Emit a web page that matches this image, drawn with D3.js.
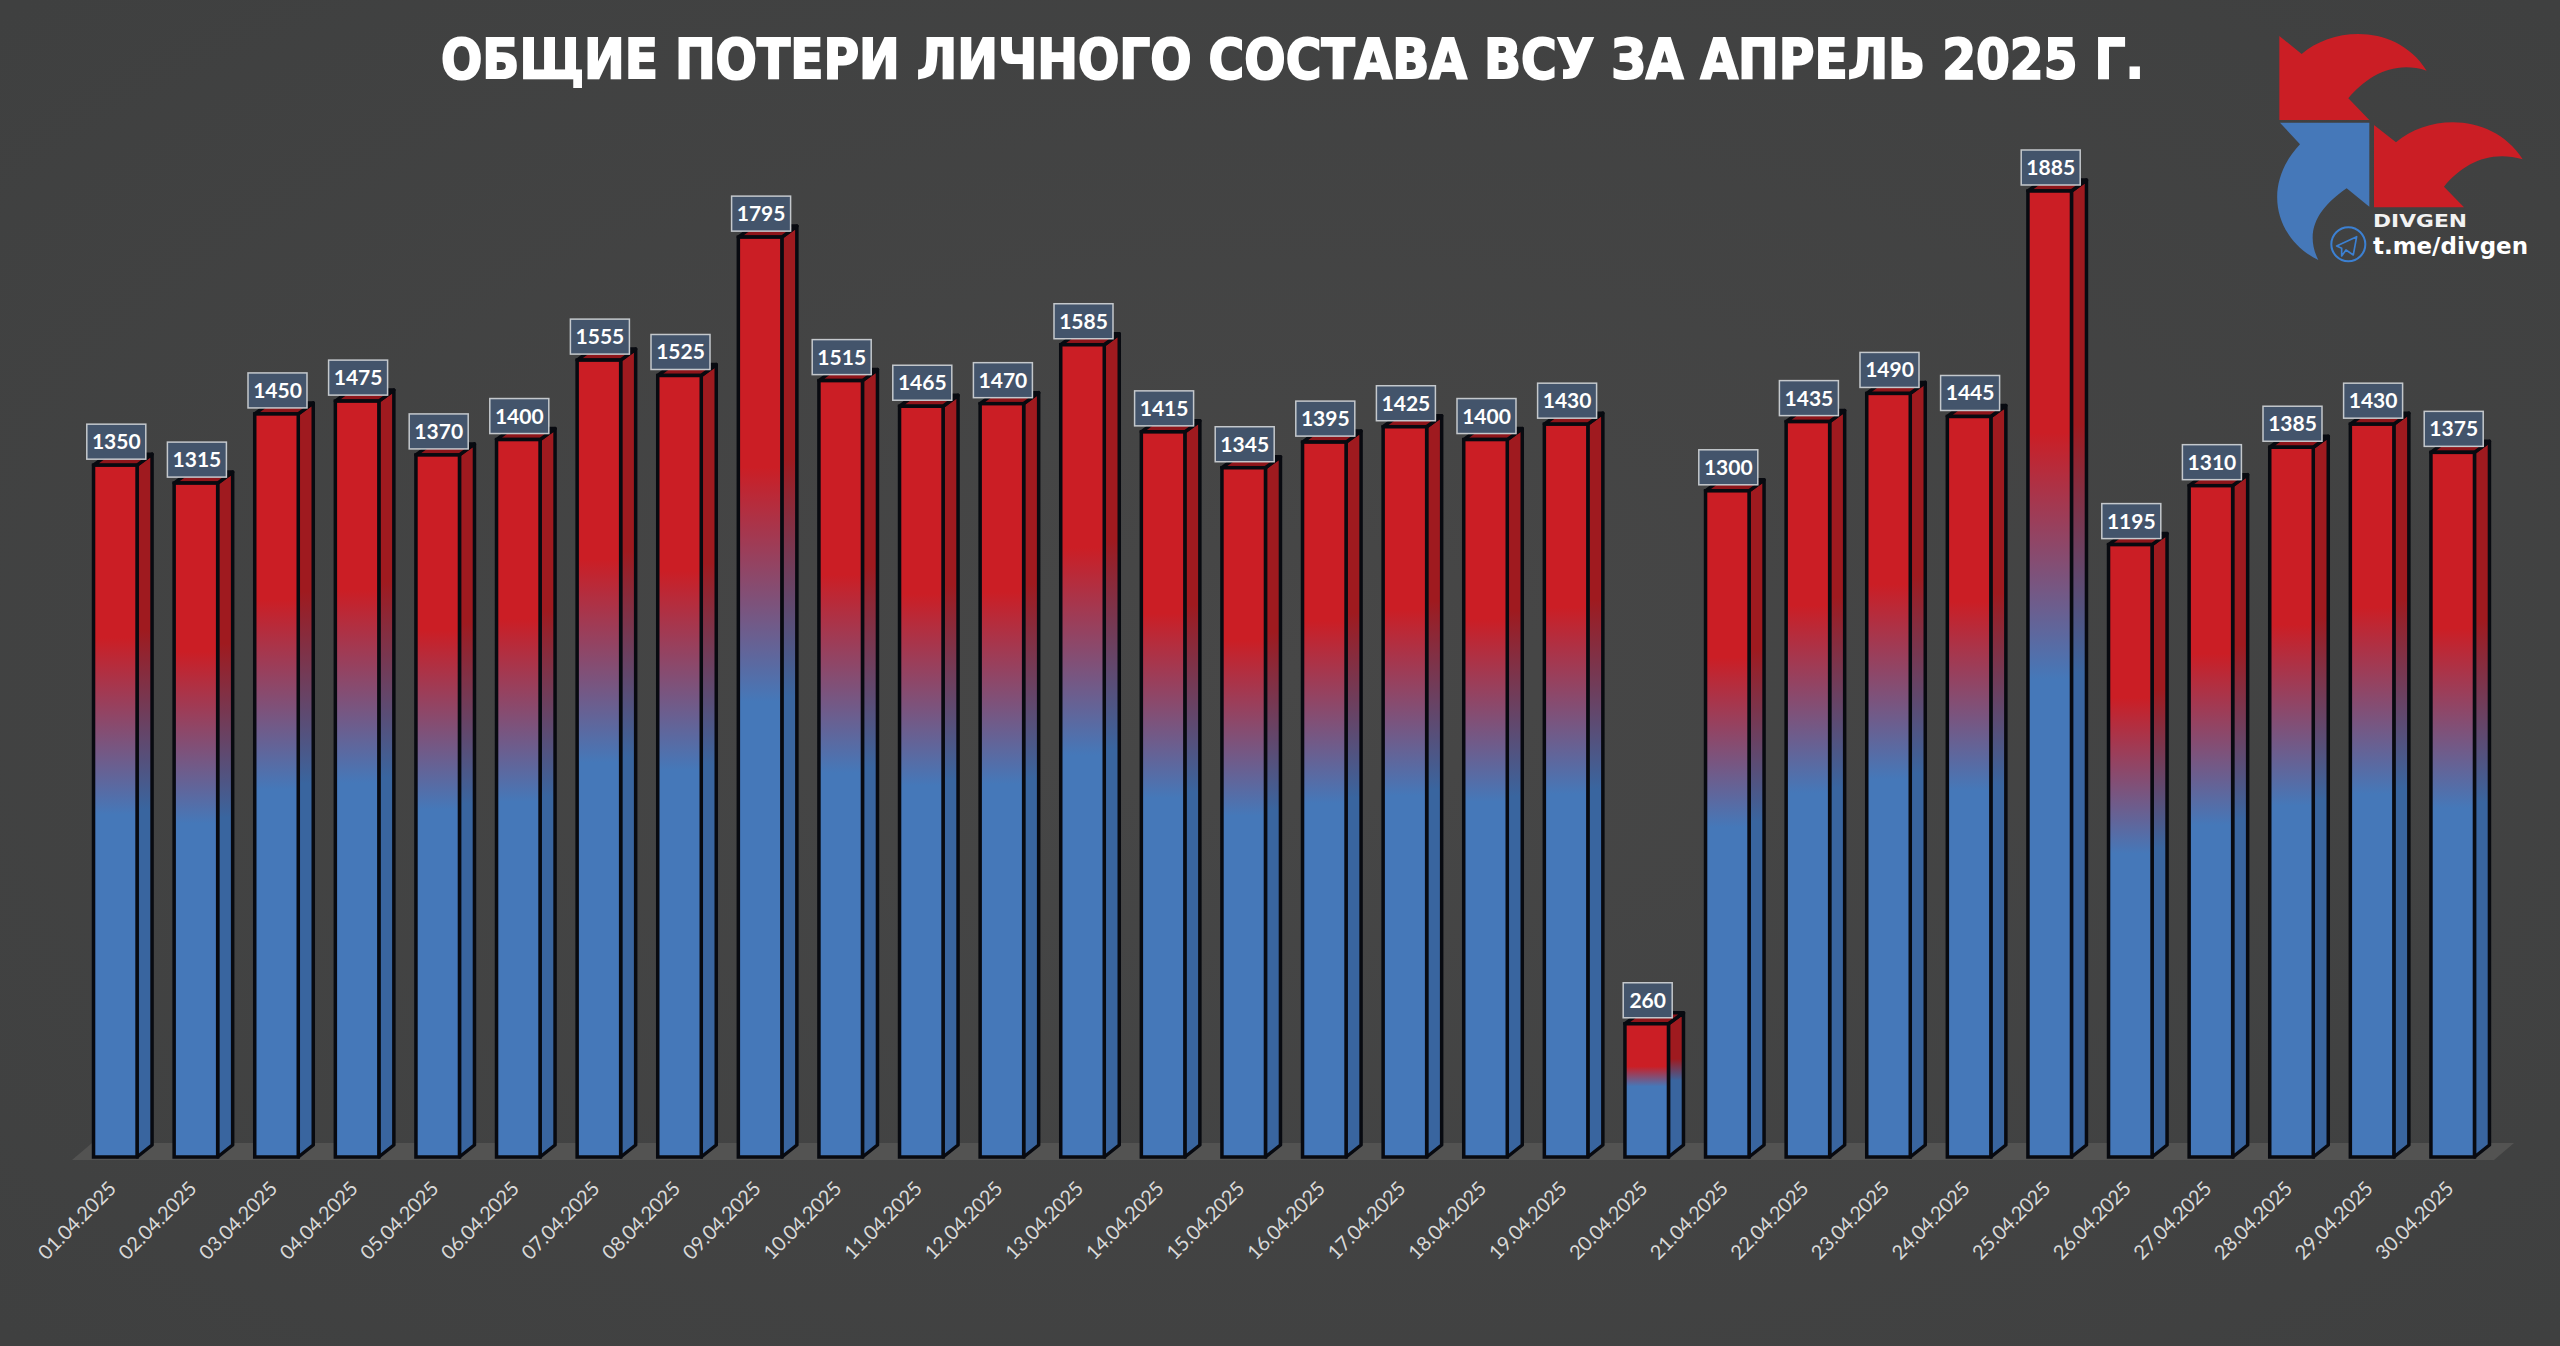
<!DOCTYPE html>
<html lang="ru">
<head>
<meta charset="UTF-8">
<title>Общие потери</title>
<style>
  html, body { margin: 0; padding: 0; background: #434343; overflow: hidden; }
  svg { display: block; }
</style>
</head>
<body>
<script src="https://d3js.org/d3.v7.min.js"></script>
<script>
const titleText = 'ОБЩИЕ ПОТЕРИ ЛИЧНОГО СОСТАВА ВСУ ЗА АПРЕЛЬ 2025 Г.';
const dates = ['01.04.2025','02.04.2025','03.04.2025','04.04.2025','05.04.2025','06.04.2025','07.04.2025','08.04.2025','09.04.2025','10.04.2025',
               '11.04.2025','12.04.2025','13.04.2025','14.04.2025','15.04.2025','16.04.2025','17.04.2025','18.04.2025','19.04.2025','20.04.2025',
               '21.04.2025','22.04.2025','23.04.2025','24.04.2025','25.04.2025','26.04.2025','27.04.2025','28.04.2025','29.04.2025','30.04.2025'];
const losses = [1350,1315,1450,1475,1370,1400,1555,1525,1795,1515,
                1465,1470,1585,1415,1345,1395,1425,1400,1430,260,
                1300,1435,1490,1445,1885,1195,1310,1385,1430,1375];

const width = 2560, height = 1346;
const baseY = 1157;
const depthX = 15, depthY = 11;

const svg = d3.select('body').append('svg')
  .attr('width', width)
  .attr('height', height)
  .attr('viewBox', [0, 0, width, height]);

const defs = svg.append('defs');

const bgGrad = defs.append('radialGradient').attr('id', 'bg').attr('cx', '50%').attr('cy', '50%').attr('r', '70%');
bgGrad.append('stop').attr('offset', '0%').attr('stop-color', '#474747');
bgGrad.append('stop').attr('offset', '100%').attr('stop-color', '#3f4040');

// red on top, blue below; the 260 bar has a much tighter blend
function barGradient(id, red, blue, redStop, blueStop) {
  const g = defs.append('linearGradient').attr('id', id)
    .attr('x1', 0).attr('y1', 0).attr('x2', 0).attr('y2', 1);
  g.append('stop').attr('offset', 1 - redStop).attr('stop-color', red);
  g.append('stop').attr('offset', 1 - blueStop).attr('stop-color', blue);
}
barGradient('front', '#cb1e25', '#4578b9', 0.75, 0.495);
barGradient('side', '#9f1a1f', '#39659f', 0.75, 0.495);
barGradient('frontShort', '#cb1e25', '#4578b9', 0.68, 0.53);
barGradient('sideShort', '#9f1a1f', '#39659f', 0.68, 0.53);

svg.append('rect').attr('width', width).attr('height', height).attr('fill', 'url(#bg)');

const x = d3.scaleBand()
  .domain(dates)
  .range([75, 75 + 80.6 * 30])
  .paddingInner(0.46)
  .paddingOuter(0.23);

const y = d3.scaleLinear()
  .domain([0, 1885])
  .range([baseY, 191]);

// floor
const floorLeft = x.range()[0], floorRight = x.range()[1];
svg.append('path')
  .attr('d', `M${floorLeft - 3},1160 L${floorRight + 1},1160 L${floorRight + 21},1143 L${floorLeft + 17},1143 Z`)
  .attr('fill', '#535352');

// x axis
const xAxis = d3.axisBottom(x).tickSize(0);
svg.append('g')
  .attr('transform', `translate(0,${baseY})`)
  .call(xAxis)
  .call(g => g.select('.domain').remove())
  .selectAll('text')
  .attr('x', 0).attr('y', 0).attr('dy', 0)
  .attr('text-anchor', 'end')
  .attr('transform', 'translate(2,33) rotate(-45)')
  .attr('font-family', 'Lato, sans-serif')
  .attr('font-size', 20)
  .attr('letter-spacing', -0.2)
  .attr('fill', '#d9d9d9');

// bars
const rows = dates.map((d, i) => ({ date: d, value: losses[i] }));
const bar = svg.selectAll('g.bar').data(rows).join('g').attr('class', 'bar');
const bw = x.bandwidth();
const edge = '#080a10';

bar.append('path')
  .attr('d', d => {
    const r = x(d.date) + bw;
    return `M${r},${y(d.value)} L${r + depthX},${y(d.value) - depthY} L${r + depthX},${baseY - depthY - 1} L${r},${baseY} Z`;
  })
  .attr('fill', d => d.value < 500 ? 'url(#sideShort)' : 'url(#side)')
  .attr('stroke', edge).attr('stroke-width', 3.5).attr('stroke-linejoin', 'round');

bar.append('path')
  .attr('d', d => {
    const l = x(d.date), r = l + bw, t = y(d.value);
    return `M${l},${t} L${r},${t} L${r + depthX},${t - depthY} L${l + depthX},${t - depthY} Z`;
  })
  .attr('fill', '#8e151a')
  .attr('stroke', edge).attr('stroke-width', 3.5).attr('stroke-linejoin', 'round');

bar.append('rect')
  .attr('x', d => x(d.date))
  .attr('y', d => y(d.value))
  .attr('width', bw)
  .attr('height', d => baseY - y(d.value))
  .attr('fill', d => d.value < 500 ? 'url(#frontShort)' : 'url(#front)')
  .attr('stroke', edge).attr('stroke-width', 3.5);

// value labels
const label = svg.selectAll('g.label').data(rows).join('g').attr('class', 'label')
  .attr('transform', d => `translate(${x(d.date) + bw / 2 + 1},${y(d.value) - 6})`);

label.append('rect')
  .attr('x', d => d.value < 1000 ? -24.5 : -29.5)
  .attr('y', -35)
  .attr('width', d => d.value < 1000 ? 49 : 59)
  .attr('height', 35)
  .attr('fill', '#43546b')
  .attr('stroke', '#c4c8cc')
  .attr('stroke-width', 1.5);

label.append('text')
  .attr('y', -10)
  .attr('text-anchor', 'middle')
  .attr('font-family', 'Lato, sans-serif')
  .attr('font-weight', 700)
  .attr('font-size', 21)
  .attr('fill', '#ffffff')
  .text(d => d.value);

// title
svg.append('text')
  .attr('x', 441)
  .attr('y', 78)
  .attr('textLength', 1703)
  .attr('lengthAdjust', 'spacingAndGlyphs')
  .attr('font-family', '"DejaVu Sans", sans-serif')
  .attr('font-weight', 700)
  .attr('font-size', 55)
  .attr('fill', '#ffffff')
  .attr('stroke', '#ffffff')
  .attr('stroke-width', 2)
  .text(titleText);

// logo, coordinates are in 3x crop units
const logo = svg.append('g').attr('transform', 'translate(2240,10) scale(0.3333)');
logo.append('path')
  .attr('d', 'M118,78 L185,132 C280,50 470,40 560,182 C460,150 380,200 325,265 L388,330 L118,330 Z')
  .attr('fill', '#cb1e25');
logo.append('path')
  .attr('d', 'M402,345 L468,397 C570,310 760,310 848,448 C750,420 670,460 612,530 L672,592 L402,592 Z')
  .attr('fill', '#cb1e25');
logo.append('path')
  .attr('d', 'M120,338 L388,338 L388,590 L320,535 C240,590 190,660 235,750 C110,690 60,530 180,403 Z')
  .attr('fill', '#4578b9');
logo.append('circle')
  .attr('cx', 325).attr('cy', 703).attr('r', 51)
  .attr('fill', 'none').attr('stroke', '#3c80d2').attr('stroke-width', 6);
logo.append('path')
  .attr('d', 'M290,708 L350,680 L340,735 L318,720 L305,738 L305,715 Z')
  .attr('fill', 'none').attr('stroke', '#3c80d2').attr('stroke-width', 5).attr('stroke-linejoin', 'round');

svg.append('text')
  .attr('x', 2373).attr('y', 227)
  .attr('textLength', 94).attr('lengthAdjust', 'spacingAndGlyphs')
  .attr('font-family', '"DejaVu Sans", sans-serif')
  .attr('font-weight', 700).attr('font-size', 18).attr('fill', '#f2f2f2')
  .text('DIVGEN');

svg.append('text')
  .attr('x', 2373).attr('y', 254)
  .attr('textLength', 155).attr('lengthAdjust', 'spacingAndGlyphs')
  .attr('font-family', '"DejaVu Sans", sans-serif')
  .attr('font-weight', 700).attr('font-size', 23).attr('fill', '#ffffff')
  .text('t.me/divgen');
</script>
</body>
</html>
